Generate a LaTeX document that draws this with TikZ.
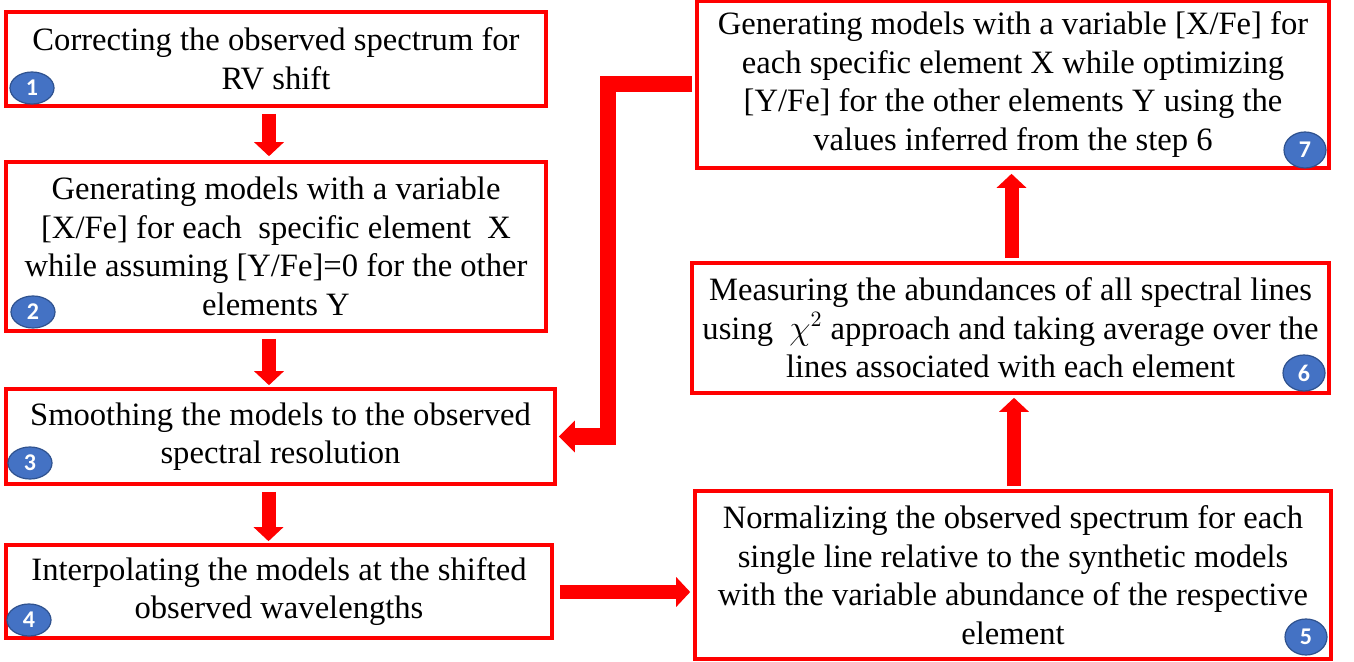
\documentclass[tikz,border=0pt]{standalone}
\usepackage{fontspec}
\setmainfont{Liberation Serif}
\newfontfamily\badgefont{Carlito}
\usetikzlibrary{arrows.meta,shapes.geometric,calc}

\definecolor{stepred}{HTML}{FF0000}
\definecolor{badgefill}{HTML}{4472C4}
\definecolor{badgeline}{HTML}{2F528F}

\tikzset{
  stepbox/.style={draw=stepred, line width=1.8pt, fill=white, inner sep=0pt,
    align=center, font=\fontsize{16.3pt}{19.3pt}\selectfont},
  badge/.style={ellipse, draw=badgeline, line width=0.6pt, fill=badgefill,
    text=white, inner sep=0pt, minimum width=22pt, minimum height=16pt,
    font=\badgefont\bfseries\fontsize{12pt}{12pt}\selectfont},
  flow/.style={draw=stepred, line width=7pt, line join=miter,
    -{Triangle[length=7pt, width=14.5pt]}},
  bigflow/.style={draw=stepred, line width=8pt, line join=miter,
    -{Triangle[length=8pt, width=15.5pt]}}
}

\begin{document}
\begin{tikzpicture}[x=0.5pt, y=-0.5pt]
\useasboundingbox (0,0) rectangle (1354,662);

% left column of steps
\node[stepbox, minimum width=270pt, minimum height=47pt] (b1) at (276,59)
  {Correcting the observed spectrum for\\RV shift};
\node[stepbox, minimum width=270pt, minimum height=84.5pt] (b2) at (276,246.5)
  {Generating models with a variable\\{[X/Fe]} for each~ specific element~ X\\while assuming [Y/Fe]=0 for the other\\elements Y};
\node[stepbox, minimum width=274.5pt, minimum height=47.5pt] (b3) at (280.5,436.5)
  {Smoothing the models to the observed\\spectral resolution};
\node[stepbox, minimum width=273pt, minimum height=46.5pt] (b4) at (279,591.5)
  {Interpolating the models at the shifted\\observed wavelengths};

% right column of steps
\node[stepbox, minimum width=318pt, minimum height=84pt] (b5) at (1013,575)
  {Normalizing the observed spectrum for each\\single line relative to the synthetic models\\with the variable abundance of the respective\\element};
\node[stepbox, minimum width=318.5pt, minimum height=65pt] (b6) at (1010.5,328)
  {Measuring the abundances of all spectral lines\\using~ $\chi^2$ approach and taking average over the\\lines associated with each element};
\node[stepbox, minimum width=316pt, minimum height=83.5pt] (b7) at (1013,84.5)
  {Generating models with a variable [X/Fe] for\\each specific element X while optimizing\\{[Y/Fe]} for the other elements Y using the\\values inferred from the step 6};

% step numbers
\node[badge] (n1) at (32,88) {1};
\node[badge] (n2) at (33,312) {2};
\node[badge] (n3) at (30,463) {3};
\node[badge] (n4) at (29,620) {4};
\node[badge, minimum width=21pt, minimum height=18pt] (n5) at (1306,637) {5};
\node[badge, minimum width=21pt, minimum height=18pt] (n6) at (1304,373) {6};
\node[badge, minimum width=21pt, minimum height=18pt] (n7) at (1305,150) {7};

% connectors
\draw[flow] ($(b1.south)+(-7,6)$) -- ($(b1.south |- b2.north)+(-7,-4)$);
\draw[flow] ($(b2.south)+(-7,6)$) -- ($(b2.south |- b3.north)+(-7,-2)$);
\draw[flow] ($(b3.south)+(-12,6)$) -- ($(b3.south |- b4.north)+(-12,-2)$);
\draw[flow] ($(b4.east |- b5.west)+(6,17)$) -- ($(b5.west)+(-3,17)$);
\draw[flow] ($(b5.north)+(1,-3)$) -- ($(b5.north |- b6.south)+(1,3)$);
\draw[flow] ($(b6.north)+(1,-3)$) -- ($(b6.north |- b7.south)+(1,4)$);
\draw[bigflow] ($(b7.west)+(-3,0)$) -- ++(-84,0) |- ($(b3.east)+(2,0)$);
\end{tikzpicture}
\end{document}
